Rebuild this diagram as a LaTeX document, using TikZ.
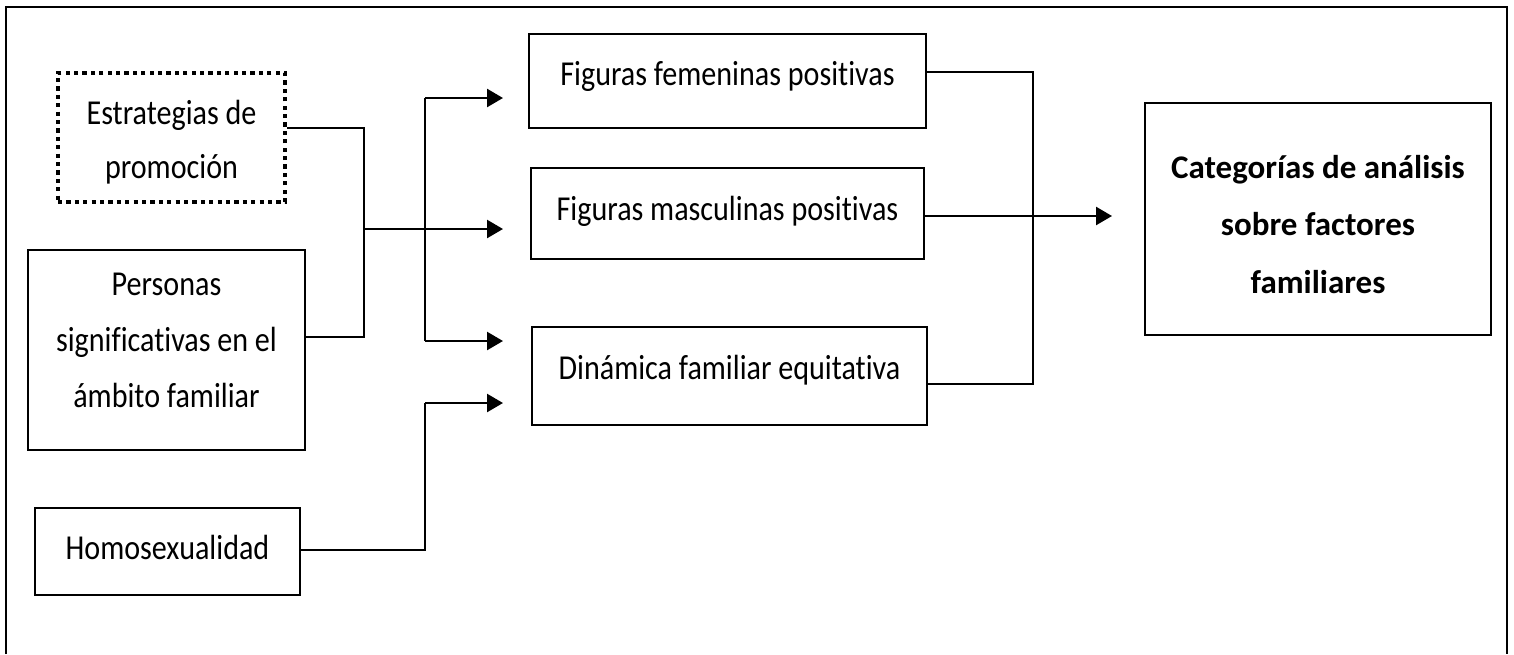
\documentclass[tikz,border=0pt]{standalone}
\usepackage{fontspec}
\setmainfont{Carlito}[Ligatures=NoCommon]
\newfontfamily\narrowfont{Carlito}[FakeStretch=0.86,Ligatures=NoCommon]
\usetikzlibrary{arrows.meta,calc}
% stacked, centred lines whose baseline is that of the first line
\newcommand\stackedlines[1]{\begin{tabular}[t]{@{}c@{}}#1\end{tabular}}
\tikzset{
  box/.style={draw, line width=2.6pt, rectangle, inner sep=0pt},
  dotbox/.style={box, dash pattern=on 4.2pt off 4.2pt, line width=3.6pt},
  txt/.style={inner sep=0pt, anchor=base, font=\narrowfont\fontsize{35}{56}\selectfont},
  boldtxt/.style={inner sep=0pt, anchor=base, font=\fontsize{33}{57.5}\selectfont\bfseries},
  link/.style={line width=2.5pt},
  arr/.style={link, -{Triangle[length=16pt,width=18pt]}},
}
\begin{document}
\begin{tikzpicture}[x=1pt,y=-1pt]
\useasboundingbox (0,0) rectangle (1514,654);
% outer frame, open at the bottom
\draw[line width=2pt] (6,654) -- (6,6.5) -- (1507,6.5) -- (1507,654);

% source boxes
\node[dotbox, minimum width=227pt, minimum height=129pt] (estr) at (171.5,137.5) {};
\node[txt, font=\narrowfont\fontsize{35}{54}\selectfont] (estr-t) at (171.5,124.5)
  {\stackedlines{Estrategias de\\promoción}};
\node[box, minimum width=277pt, minimum height=200pt] (pers) at (166.5,350) {};
\node[txt] (pers-t) at (166.5,295)
  {\stackedlines{Personas\\significativas en el\\ámbito familiar}};
\node[box, minimum width=265pt, minimum height=87pt] (homo) at (167.5,551.5) {};
\node[txt] (homo-t) at (167.5,559) {Homosexualidad};

% middle boxes
\node[box, minimum width=397pt, minimum height=94pt] (fem) at (727.5,81) {};
\node[txt] (fem-t) at (727.5,85) {Figuras femeninas positivas};
\node[box, minimum width=393pt, minimum height=91pt] (masc) at (727.5,213.5) {};
\node[txt] (masc-t) at (727.5,220) {Figuras masculinas positivas};
\node[box, minimum width=395pt, minimum height=98pt] (din) at (729.5,376) {};
\node[txt] (din-t) at (729.5,379) {Dinámica familiar equitativa};

% result box
\node[box, minimum width=346pt, minimum height=232pt] (cat) at (1318,219) {};
\node[boldtxt] (cat-t) at (1318,178)
  {\stackedlines{Categorías de análisis\\sobre factores\\familiares}};

% junction points and arrow tips
\coordinate (ja) at (364,229);
\coordinate (jb) at (425,229);
\coordinate (tf) at (503,98);
\coordinate (tm) at (503,229);
\coordinate (td) at (503,341);
\coordinate (th) at (503,403);
\coordinate (jr) at (1033,216);
\coordinate (tc) at (1112,216);

% left side connectors
\draw[link] ([yshift=9.5pt]estr.east) -| (ja) |- ([yshift=13pt]pers.east);
\draw[arr] (ja) -- (tm);
\draw[link] (jb |- tf) -- (jb |- td);
\draw[arr] (jb |- tf) -- (tf);
\draw[arr] (jb |- td) -- (td);
\draw[link] ([yshift=1.5pt]homo.east) -| (jb |- th);
\draw[arr] (jb |- th) -- (th);

% right side connectors
\draw[link] ([yshift=9pt]fem.east) -| (jr |- {(0,384)}) -- ([yshift=-8pt]din.east);
\draw[arr] ([yshift=-2.5pt]masc.east) -- (tc);
\end{tikzpicture}
\end{document}
